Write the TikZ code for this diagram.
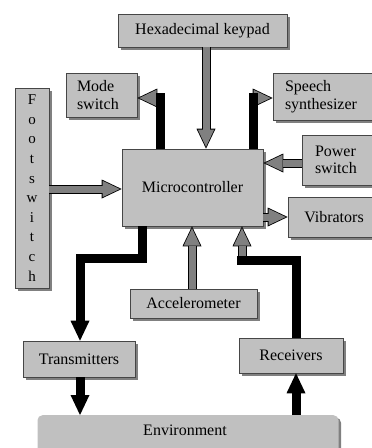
\documentclass[tikz,border=0pt]{standalone}
\usepackage{fontspec}
\setmainfont{Liberation Serif}
\usetikzlibrary{arrows.meta,shadows}
\definecolor{boxgray}{RGB}{192,192,192}
\definecolor{arrgray}{RGB}{128,128,128}
\definecolor{edgegray}{RGB}{70,70,70}
\newcommand\grayarrow[2]{%
  \draw[gout] #1 -- #2;
  \draw[gin] #1 -- #2;}
\begin{document}
\begin{tikzpicture}[x=1pt,y=-1pt,
  box/.style={draw=edgegray, line width=0.6pt, fill=boxgray, inner sep=0pt,
    drop shadow={shadow xshift=2.5pt, shadow yshift=-2.5pt, fill=black!50, opacity=1},
    font=\fontsize{16}{17.5}\selectfont},
  envbox/.style={fill=boxgray, rounded corners=5pt, inner sep=0pt,
    drop shadow={shadow xshift=2.5pt, shadow yshift=-2.5pt, fill=black!50, opacity=1}},
  gout/.style={draw=black, line width=9pt, -{Triangle[length=20pt,width=19pt,line width=0pt]}},
  gin/.style={draw=arrgray, line width=7pt, shorten >=1.9pt,
    -{Triangle[length=17.3pt,width=16.4pt,line width=0pt]}},
  bline/.style={draw=black, line width=9pt, line join=miter},
  barrow/.style={bline, -{Triangle[length=20pt,width=19pt,line width=0pt]}},
  txt/.style={font=\fontsize{16}{17.5}\selectfont}
]
\useasboundingbox (0,0) rectangle (372,448);

% boxes
\node (kp) [box, minimum width=169pt, minimum height=33pt] at (202.5,30.5) {Hexadecimal keypad};
\node (ms) [box, minimum width=71pt, minimum height=44pt, text width=49pt, align=left] at (101.5,95) {Mode\\switch};
\node (sp) [box, minimum width=105pt, minimum height=47pt, text width=81pt, align=left] at (325.5,96.5) {Speech\\synthesizer};
\node (fs) [box, minimum width=34pt, minimum height=200pt, align=center,
  font=\fontsize{15}{19.6}\selectfont] at (32,188) {F\\o\\o\\t\\s\\w\\i\\t\\c\\h};
\node (mc) [box, minimum width=141pt, minimum height=77pt] at (192.5,187.5) {\raisebox{2pt}{Microcontroller}};
\node (pw) [box, minimum width=78pt, minimum height=50pt, text width=52pt, align=left] at (341,160) {Power\\switch};
\node (vb) [box, minimum width=92pt, minimum height=40pt] at (334,217) {Vibrators};
\node (ac) [box, minimum width=127pt, minimum height=29pt] at (193.5,303.5) {Accelerometer};
\node (tx) [box, minimum width=112pt, minimum height=36pt] at (79,359) {Transmitters};
\node (rx) [box, minimum width=104pt, minimum height=35pt] at (291,355.5) {Receivers};
\node (env) [envbox, minimum width=301pt, minimum height=50pt, anchor=north] at (188,415) {};
\node [txt] at (185,430) {Environment};

% coordinates for connectors
\coordinate (kpx) at (206,0);
\coordinate (fsy) at (0,189);
\coordinate (pwy) at (0,163);
\coordinate (vby) at (0,217);
\coordinate (acx) at (192,0);
\coordinate (mj) at (160,98);
\coordinate (mtop) at (160,93);
\coordinate (sj) at (253,98);
\coordinate (stop) at (253,93);
\coordinate (t1) at (142,258);
\coordinate (t2) at (80,258);
\coordinate (r1) at (296,260);
\coordinate (r2) at (237,260);
\coordinate (r3) at (242,260);

% gray arrows
\grayarrow{(kp.south -| kpx)}{(mc.north -| kpx)}
\grayarrow{(fs.east |- fsy)}{(mc.west |- fsy)}
\grayarrow{(pw.west |- pwy)}{(mc.east |- pwy)}
\grayarrow{(mc.east |- vby)}{(vb.west |- vby)}
\grayarrow{(ac.north -| acx)}{(mc.south -| acx)}
\grayarrow{(mj)}{(ms.east |- mj)}
\grayarrow{(sj)}{(sp.west |- sj)}
\grayarrow{(r3)}{(mc.south -| r3)}

% black bars
\draw[bline] (mc.north -| mtop) -- (mtop);
\draw[bline] (mc.north -| stop) -- (stop);
\draw[barrow] (mc.south -| t1) -- (t1) -- (t2) -- (tx.north -| t2);
\draw[bline] (rx.north -| r1) -- (r1) -- (r2);
\draw[barrow] (tx.south -| t2) -- (env.north -| t2);
\draw[barrow] (env.north -| r1) -- (rx.south -| r1);
\end{tikzpicture}
\end{document}
